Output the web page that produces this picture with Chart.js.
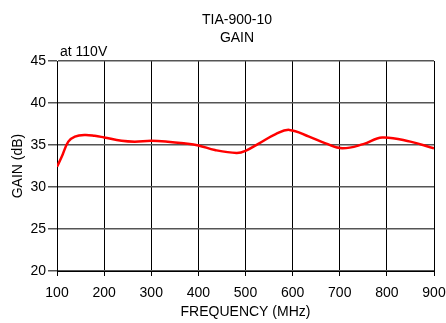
<!DOCTYPE html>
<html>
<head>
<meta charset="utf-8">
<script src="https://cdn.jsdelivr.net/npm/chart.js@4/dist/chart.umd.min.js"></script>
<style>
html,body{margin:0;padding:0;background:#fff;}
#wrap{width:446px;height:323px;position:relative;}
</style>
</head>
<body>
<div id="wrap"><canvas id="c" width="446" height="323"></canvas></div>
<script>
const titleLines = ['TIA-900-10', 'GAIN'];
const noteText = 'at 110V';
const xTitle = 'FREQUENCY (MHz)';
const yTitle = 'GAIN (dB)';
const freqMHz = [100, 110, 124, 138, 159, 180, 200, 237, 265, 300, 335, 369, 400, 435, 481, 500, 529, 564, 593, 635, 670, 705, 750, 790, 850, 900];
const gainDb  = [32.4, 33.6, 35.4, 36.0, 36.2, 36.1, 35.9, 35.5, 35.4, 35.5, 35.4, 35.2, 34.95, 34.4, 34.05, 34.3, 35.2, 36.3, 36.8, 36.0, 35.2, 34.6, 35.1, 35.9, 35.4, 34.6];
const xTicks = [100, 200, 300, 400, 500, 600, 700, 800, 900];
const yTicks = [20, 25, 30, 35, 40, 45];

const FONT = 'Arial, "Liberation Sans", sans-serif';

const textPlugin = {
  id: 'texts',
  afterDraw(chart) {
    const ctx = chart.ctx;
    ctx.save();
    ctx.fillStyle = '#000';
    ctx.font = '14px ' + FONT;
    ctx.textBaseline = 'middle';
    ctx.textAlign = 'center';
    ctx.fillText(titleLines[0], 237, 20);
    ctx.fillText(titleLines[1], 237, 38);
    ctx.textAlign = 'left';
    ctx.fillText(noteText, 60, 52);
    ctx.restore();
  }
};

new Chart(document.getElementById('c'), {
  type: 'line',
  data: {
    datasets: [{
      data: freqMHz.map((f, i) => ({x: f, y: gainDb[i]})),
      borderColor: '#ff0000',
      borderWidth: 2.5,
      pointRadius: 0,
      tension: 0.4,
      fill: false
    }]
  },
  options: {
    responsive: false,
    animation: false,
    devicePixelRatio: 1,
    layout: {padding: {top: 61, left: 0, right: 12, bottom: 0}},
    plugins: {legend: {display: false}, tooltip: {enabled: false}, title: {display: false}},
    scales: {
      x: {
        type: 'linear',
        min: 100, max: 900,
        afterBuildTicks: s => { s.ticks = xTicks.map(v => ({value: v})); },
        afterFit: s => { s.height = 52; s.paddingLeft = 0; s.paddingRight = 0; },
        grid: {color: '#000', lineWidth: 1, tickLength: 5, drawTicks: true},
        border: {color: '#000', width: 1},
        ticks: {color: '#000', font: {family: FONT, size: 14}, padding: 9, maxRotation: 0, autoSkip: false},
        title: {display: true, text: xTitle, color: '#000', font: {family: FONT, size: 14}, padding: {top: 0, bottom: 2}}
      },
      y: {
        min: 20, max: 45,
        afterBuildTicks: s => { s.ticks = yTicks.map(v => ({value: v})); },
        afterFit: s => { s.width = 57; s.paddingTop = 0; s.paddingBottom = 0; },
        grid: {color: '#555', lineWidth: 1.5, tickLength: 9, drawTicks: true},
        border: {color: '#000', width: 1},
        ticks: {color: '#000', font: {family: FONT, size: 14}, padding: 2},
        title: {display: true, text: yTitle, color: '#000', font: {family: FONT, size: 14}, padding: {top: 10, bottom: 0}}
      }
    }
  },
  plugins: [textPlugin]
});
</script>
</body>
</html>
